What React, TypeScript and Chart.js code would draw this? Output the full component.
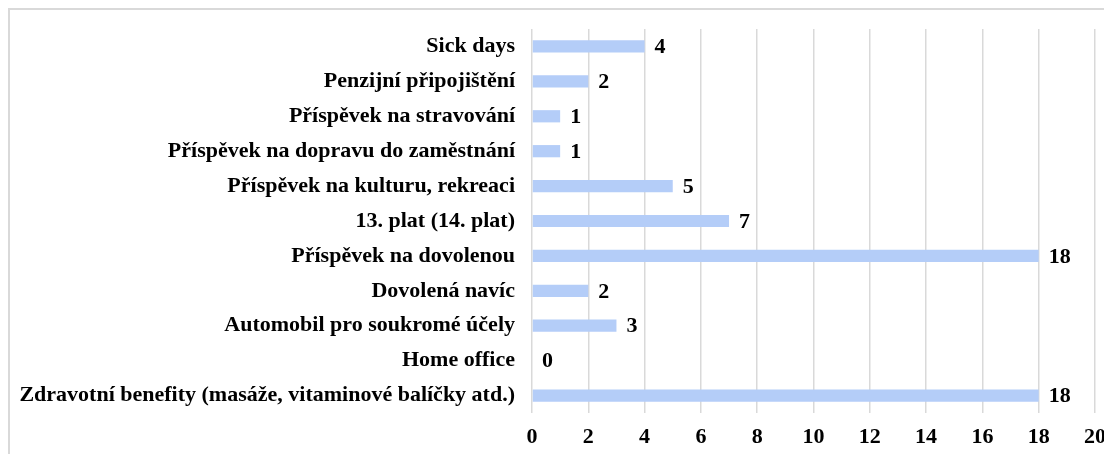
import React, { useEffect, useRef } from "react";
import { Chart, registerables } from "chart.js";

Chart.register(...registerables);

const categories = [
  "Sick days",
  "Penzijní připojištění",
  "Příspěvek na stravování",
  "Příspěvek na dopravu do zaměstnání",
  "Příspěvek na kulturu, rekreaci",
  "13. plat (14. plat)",
  "Příspěvek na dovolenou",
  "Dovolená navíc",
  "Automobil pro soukromé účely",
  "Home office",
  "Zdravotní benefity (masáže, vitaminové balíčky atd.)",
];

const values = [4, 2, 1, 1, 5, 7, 18, 2, 3, 0, 18];

const xTicks = [0, 2, 4, 6, 8, 10, 12, 14, 16, 18, 20];

const FONT = "'Liberation Serif', 'Times New Roman', serif";
const FONT_SIZE = 22;

const frameAndLabels = {
  id: "frameAndLabels",
  beforeDraw(chart: any) {
    const { ctx, width, height } = chart;
    ctx.save();
    ctx.fillStyle = "#ffffff";
    ctx.fillRect(0, 0, width, height);
    ctx.fillStyle = "#d9d9d9";
    ctx.fillRect(0, 0, width, 2);
    ctx.fillRect(0, 0, 2, height);
    ctx.restore();
  },
  afterDatasetsDraw(chart: any) {
    const { ctx } = chart;
    const meta = chart.getDatasetMeta(0);
    ctx.save();
    ctx.font = `bold ${FONT_SIZE}px ${FONT}`;
    ctx.fillStyle = "#000000";
    ctx.textAlign = "left";
    ctx.textBaseline = "middle";
    meta.data.forEach((bar: any, i: number) => {
      ctx.fillText(String(values[i]), bar.x + 10, bar.y + 1);
    });
    ctx.restore();
  },
};

const zeroPad = (scale: any) => {
  scale.paddingTop = 0;
  scale.paddingBottom = 0;
  scale.paddingLeft = 0;
  scale.paddingRight = 0;
};

export default function App() {
  const canvasRef = useRef<HTMLCanvasElement | null>(null);

  useEffect(() => {
    if (!canvasRef.current) return;
    const chart = new Chart(canvasRef.current, {
      type: "bar",
      data: {
        labels: categories,
        datasets: [
          {
            data: values,
            backgroundColor: "#b4cdf8",
            borderWidth: 0,
            categoryPercentage: 1,
            barPercentage: 0.35,
          },
        ],
      },
      options: {
        indexAxis: "y",
        animation: false,
        responsive: false,
        maintainAspectRatio: false,
        layout: { padding: { top: 21, right: 17, left: 0, bottom: 0 } },
        plugins: {
          legend: { display: false },
          tooltip: { enabled: false },
        },
        scales: {
          x: {
            min: 0,
            max: 20,
            afterBuildTicks: (scale: any) => {
              scale.ticks = xTicks.map((v) => ({ value: v }));
            },
            grid: {
              color: "#d9d9d9",
              lineWidth: 1.5,
              drawTicks: false,
            },
            border: { display: false },
            ticks: {
              padding: 11,
              color: "#000000",
              maxRotation: 0,
              font: { family: FONT, size: FONT_SIZE, weight: "bold" },
            },
            afterFit: (scale: any) => {
              scale.height = 41;
              zeroPad(scale);
            },
          },
          y: {
            grid: { display: false, drawTicks: false },
            border: { display: false },
            ticks: {
              padding: 17,
              color: "#000000",
              autoSkip: false,
              font: { family: FONT, size: FONT_SIZE, weight: "bold" },
            },
            afterFit: (scale: any) => {
              scale.width = 524;
              zeroPad(scale);
            },
          },
        },
      },
      plugins: [frameAndLabels],
    });
    return () => chart.destroy();
  }, []);

  return (
    <div style={{ width: 1104, height: 446 }}>
      <canvas ref={canvasRef} width={1104} height={446} style={{ display: "block" }} />
    </div>
  );
}
